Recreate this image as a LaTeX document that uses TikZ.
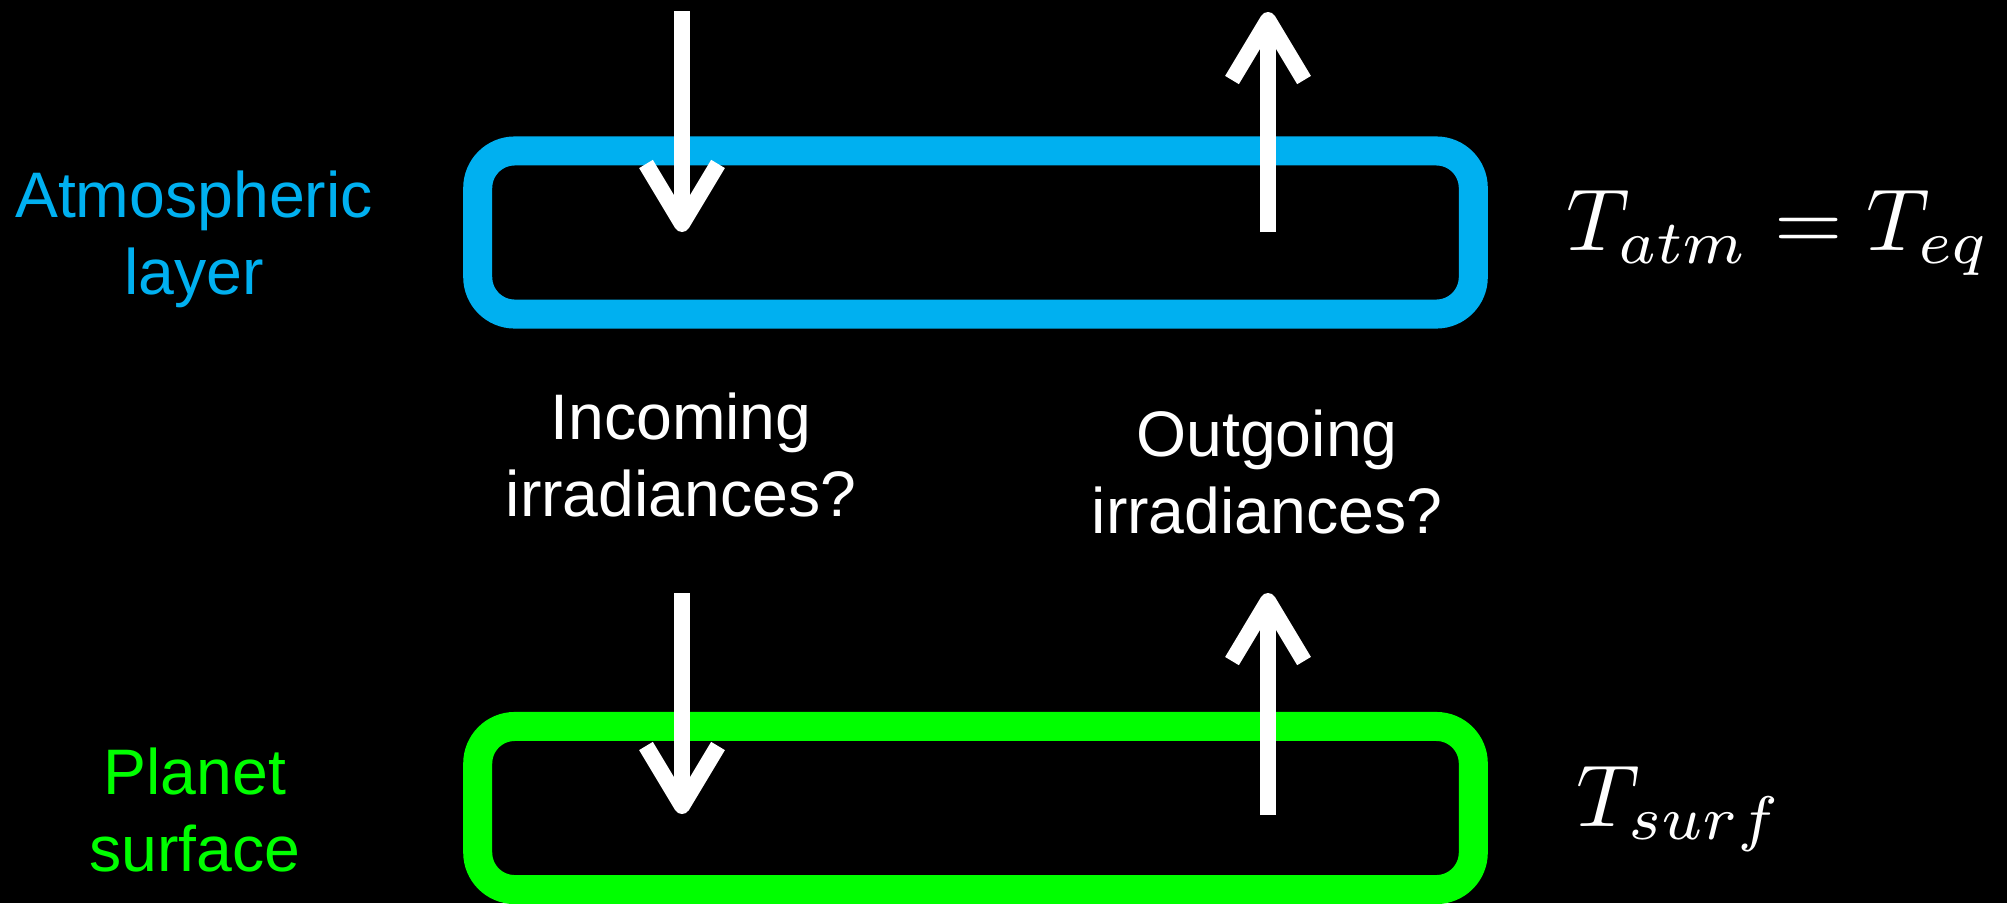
\documentclass[tikz,border=0pt]{standalone}
\usepackage[no-math]{fontspec}
\setmainfont{Liberation Sans}
\usepackage{xcolor}
\usepackage{tikz}
\usetikzlibrary{arrows.meta}

\definecolor{atmblue}{RGB}{0,176,240}
\definecolor{surfgreen}{RGB}{0,255,0}

\tikzset{
  layerbox/.style={line width=0.29cm, rounded corners=0.37cm,
    minimum width=9.95cm, minimum height=1.63cm, inner sep=0pt},
  flux/.style={white, line width=0.16cm,
    -{Straight Barb[length=0.6cm, width=0.72cm, line join=round]}},
  lbl/.style={font=\fontsize{18.3}{21.7}\selectfont, align=center, anchor=base},
  temp/.style={scale=2.5, anchor=base west, inner sep=0pt}
}

\begin{document}
\begin{tikzpicture}[x=0.01cm, y=-0.01cm]

    % =================================================================
    % 1. NEN VA KHUNG HINH
    % =================================================================
    \fill[black] (0,0) rectangle (2007,903);
    \useasboundingbox (0,0) rectangle (2007,903);

    % =================================================================
    % 2. HAI LOP: KHI QUYEN VA BE MAT
    % =================================================================
    \node[layerbox, draw=atmblue] (AtmBox) at (975.5,232.5) {};
    \node[layerbox, draw=surfgreen] (SurfBox) at (975.5,808) {};

    % =================================================================
    % 3. TOA DO DAU MUT CAC MUI TEN
    % =================================================================
    \coordinate (InTopStart) at (682,11);
    \coordinate (InTopEnd) at (682,232);
    \coordinate (OutTopStart) at (1268,232);
    \coordinate (OutTopEnd) at (1268,12);

    \coordinate (InBotStart) at (682,593);
    \coordinate (InBotEnd) at (682,814);
    \coordinate (OutBotStart) at (1268,815);
    \coordinate (OutBotEnd) at (1268,593);

    % Cac mui ten buc xa vao / ra
    \draw[flux] (InTopStart) -- (InTopEnd);
    \draw[flux] (OutTopStart) -- (OutTopEnd);
    \draw[flux] (InBotStart) -- (InBotEnd);
    \draw[flux] (OutBotStart) -- (OutBotEnd);

    % =================================================================
    % 4. NHAN (goc base = dong cuoi)
    % =================================================================
    \node[lbl, atmblue] (AtmLabel) at (194,294) {Atmospheric\\layer};
    \node[lbl, surfgreen] (SurfLabel) at (195,871) {Planet\\surface};
    \node[lbl, white] (InLabel) at (681,516) {Incoming\\irradiances?};
    \node[lbl, white] (OutLabel) at (1267,533) {Outgoing\\irradiances?};

    % Nhiet do
    \node[temp, white] (AtmTemp) at (1565,250) {$T_{atm} = T_{eq}$};
    \node[temp, white] (SurfTemp) at (1575,826) {$T_{surf}$};

\end{tikzpicture}
\end{document}
